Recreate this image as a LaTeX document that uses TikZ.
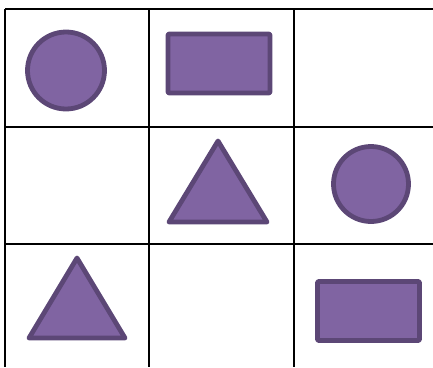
\documentclass[tikz,border=0pt]{standalone}
\definecolor{shapefill}{HTML}{8064A2}
\definecolor{shapeline}{HTML}{5C4776}
\tikzset{
  gridline/.style={line width=2pt, black},
  shapestyle/.style={fill=shapefill, draw=shapeline, line width=4.8pt, line join=round},
}
\begin{document}
\begin{tikzpicture}[x=1pt,y=-1pt]
\useasboundingbox (0,0) rectangle (433,367);
% grid
\draw[gridline] (5,9) -- (433,9);
\draw[gridline] (5,127) -- (433,127);
\draw[gridline] (5,244) -- (433,244);
\draw[gridline] (5,9) -- (5,367);
\draw[gridline] (149,9) -- (149,367);
\draw[gridline] (294,9) -- (294,367);
% shapes
\node[shapestyle, circle, minimum size=77pt, inner sep=0pt] (c1) at (66,70.5) {};
\node[shapestyle, rectangle, rounded corners=1pt, minimum width=102pt, minimum height=59pt, inner sep=0pt] (r1) at (219,63.5) {};
\draw[shapestyle] (218,141) -- (267,222) -- (169,222) -- cycle;
\node[shapestyle, circle, minimum size=75pt, inner sep=0pt] (c2) at (371,184) {};
\draw[shapestyle] (77,258) -- (125,338) -- (29,338) -- cycle;
\node[shapestyle, rectangle, rounded corners=1pt, minimum width=102pt, minimum height=59pt, inner sep=0pt] (r2) at (368.5,311) {};
\end{tikzpicture}
\end{document}
